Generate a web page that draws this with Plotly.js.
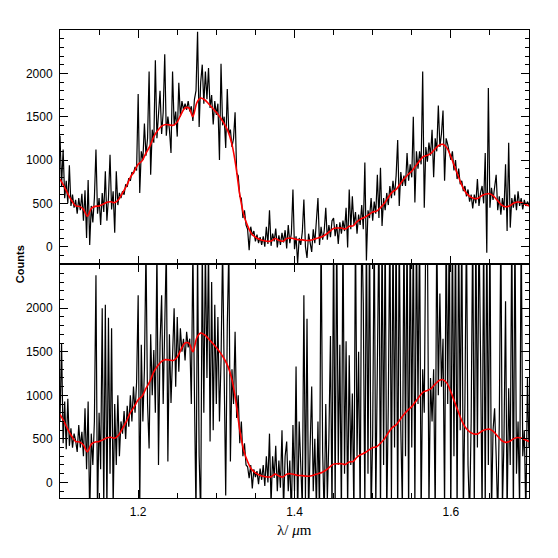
<!DOCTYPE html>
<html>
<head>
<meta charset="utf-8">
<script src="https://cdn.plot.ly/plotly-3.0.1.min.js"></script>
<style>html,body{margin:0;padding:0;background:#fff;}#chart{width:558px;height:558px;}</style>
</head>
<body>
<div id="chart"></div>
<script>
// wavelength grid of the spectra (start and step, microns)
const specStart = 1.1;
const specStep = 0.002;
const smoothStart = 1.1;
const smoothStep = 0.005;

// top panel: observed counts
const topCounts = [
1280,700,1120,560,760,500,940,470,600,450,
540,380,560,420,610,300,650,100,770,20,
470,280,560,1120,380,560,250,620,400,870,
300,560,1060,430,640,160,870,480,620,560,
640,600,720,690,790,760,860,840,920,880,
1760,620,1100,1000,1420,1050,1250,2020,830,1350,
1200,2150,1250,1500,1800,1300,1550,2220,1280,1500,
1350,1080,2020,1400,1560,1270,1890,1500,1680,1580,
1650,1580,1680,1560,1620,1450,1700,1800,2480,1380,
1900,2100,1650,2020,1700,2060,1600,1750,1410,1680,
1520,1650,1000,2110,1400,1500,1140,1820,1300,1350,
1150,1250,1550,850,820,580,560,330,420,250,
200,-40,230,130,180,60,140,40,110,20,
120,0,230,30,420,10,150,60,210,-10,
130,20,160,50,190,-20,250,40,150,660,
-30,120,-190,100,20,170,545,0,-130,150,
60,-60,200,40,300,560,20,230,80,180,
450,80,250,110,300,330,120,260,30,280,
150,300,180,450,-10,660,200,580,250,400,
150,370,250,480,200,970,-160,420,330,560,
300,520,380,830,330,910,240,560,420,620,
480,700,560,760,590,820,1230,470,860,700,
820,700,1080,760,950,800,1500,510,1100,900,
1100,950,2020,450,1150,980,1200,1050,1350,800,
1250,1100,1630,1150,1300,1570,760,1250,1180,1100,
1000,1100,880,1000,780,900,720,760,640,700,
580,660,520,600,440,600,500,780,470,620,
700,500,1080,-70,1830,450,680,540,720,830,
420,580,370,560,420,950,180,1200,220,560,
450,600,420,640,470,560,430,540,470,520,480
];

// bottom panel: noisier observed counts
const bottomCounts = [
700,1600,450,930,380,960,420,620,400,560,
480,350,660,400,580,300,850,150,930,-400,
560,200,700,2380,-400,800,150,2000,-300,2040,
-350,1890,100,1770,-300,900,200,1000,300,700,
560,820,500,880,640,1000,700,1100,800,1150,
2150,-300,1580,700,1300,2700,900,390,1700,1000,
1520,800,2700,200,1600,2150,900,1800,2700,240,
1700,912,1500,2000,1100,1900,1270,1770,1500,1650,
1400,1730,1550,1650,900,2700,1000,-400,2700,300,
-400,2700,800,2700,1200,2700,470,2300,600,2040,
900,1900,700,1400,2700,1100,-150,1800,2700,240,
1300,900,1730,740,1000,450,700,300,450,200,
180,50,200,-70,150,60,130,-20,160,30,
200,-40,300,0,560,-250,300,50,420,-100,
250,-60,600,-300,300,470,-100,250,-400,660,
-100,1330,-400,700,100,-300,2150,-200,1880,-400,
400,1100,-100,500,-300,700,-400,3000,350,-400,
900,-200,500,1680,-400,3000,-300,3000,200,1580,
-400,3000,100,1620,-300,1460,200,1020,-400,3000,
300,1500,-400,3000,2060,-300,3000,100,3000,-400,
540,3000,-300,1160,3000,-400,3000,200,3000,-400,
900,3000,-200,3000,400,3000,-400,3000,600,-300,
3000,300,3000,-400,3000,400,3000,-300,3000,900,
3000,-400,1300,800,3000,3000,-300,1200,700,1300,
-400,3000,1000,2170,1100,1650,-300,3000,900,3000,
-400,3000,300,3000,-400,3000,600,3000,-400,900,
3000,200,-400,700,3000,-300,3000,400,3000,1480,
-400,3000,-300,3000,200,3000,-400,600,850,300,
-400,700,3000,-300,500,2080,-400,1080,200,3000,
-400,3000,100,700,-300,3000,300,600,-400,1200,400
];

// smoothed spectrum (red), same in both panels
const smoothCounts = [
780,700,610,530,470,465,430,350,440,465,
470,490,512,518,508,545,620,700,800,870,
950,990,1080,1160,1270,1340,1390,1410,1405,1400,
1440,1530,1600,1600,1500,1660,1715,1695,1650,1600,
1550,1490,1420,1330,1180,930,600,370,240,150,
110,85,70,62,65,95,75,62,95,100,
90,80,78,72,73,85,100,115,140,175,
210,215,215,205,235,240,290,320,340,370,
400,410,450,500,570,630,660,720,780,830,
870,930,990,1040,1055,1080,1130,1170,1180,1140,
1040,920,800,690,615,575,555,560,590,608,
610,580,530,480,460,470,500,515,510,490,470
];

// axis ticks
const xTickVals = [1.2, 1.4, 1.6];
const xTickText = ['1.2', '1.4', '1.6'];
const yTickVals = [0, 500, 1000, 1500, 2000];
const yTickText = ['0', '500', '1000', '1500', '2000'];

const tickFont = {family: 'Liberation Sans, Arial, sans-serif', size: 12, color: '#000'};

const traces = [
  {x0: specStart, dx: specStep, y: topCounts, xaxis: 'x', yaxis: 'y', type: 'scatter', mode: 'lines',
   line: {color: '#000', width: 1.2}, hoverinfo: 'skip'},
  {x0: smoothStart, dx: smoothStep, y: smoothCounts, xaxis: 'x', yaxis: 'y', type: 'scatter', mode: 'lines',
   line: {color: '#ff0000', width: 1.6, shape: 'spline', smoothing: 0.8}, hoverinfo: 'skip'},
  {x0: specStart, dx: specStep, y: bottomCounts, xaxis: 'x2', yaxis: 'y2', type: 'scatter', mode: 'lines',
   line: {color: '#000', width: 1.2}, hoverinfo: 'skip'},
  {x0: smoothStart, dx: smoothStep, y: smoothCounts, xaxis: 'x2', yaxis: 'y2', type: 'scatter', mode: 'lines',
   line: {color: '#ff0000', width: 1.6, shape: 'spline', smoothing: 0.8}, hoverinfo: 'skip'}
];

function xAxis(anchor, labels) {
  return {
    anchor: anchor, domain: [0, 1], range: [1.1, 1.7], showgrid: false, zeroline: false,
    showline: true, linecolor: '#000', linewidth: 1, mirror: 'allticks',
    tickmode: 'array', tickvals: xTickVals, ticktext: xTickText,
    ticks: 'inside', ticklen: 8, tickwidth: 1, tickcolor: '#000',
    showticklabels: labels, tickfont: tickFont, ticklabelstandoff: 3,
    minor: {tickmode: 'linear', tick0: 1.1, dtick: 0.05, ticks: 'inside', ticklen: 5, tickwidth: 1, tickcolor: '#000', showgrid: false}
  };
}
function yAxis(anchor, domain, range) {
  return {
    anchor: anchor, domain: domain, range: range, showgrid: false, zeroline: false,
    showline: true, linecolor: '#000', linewidth: 1, mirror: 'allticks',
    tickmode: 'array', tickvals: yTickVals, ticktext: yTickText,
    ticks: 'inside', ticklen: 8, tickwidth: 1, tickcolor: '#000',
    tickfont: tickFont, ticklabelstandoff: 4,
    minor: {tickmode: 'linear', tick0: 0, dtick: 100, ticks: 'inside', ticklen: 4, tickwidth: 1, tickcolor: '#000', showgrid: false}
  };
}

const layout = {
  width: 558, height: 558,
  margin: {l: 60, r: 29, t: 30, b: 60},
  paper_bgcolor: '#fff', plot_bgcolor: '#fff',
  showlegend: false,
  xaxis: xAxis('y', false),
  yaxis: yAxis('x', [0.5, 1], [-200, 2500]),
  xaxis2: xAxis('y2', true),
  yaxis2: yAxis('x2', [0, 0.5], [-179, 2508]),
  annotations: [
    {text: '<b>Counts</b>', xref: 'paper', yref: 'paper', x: -0.085, y: 0.5, textangle: -90,
     showarrow: false, xanchor: 'center', yanchor: 'middle',
     font: {family: 'Liberation Sans, Arial, sans-serif', size: 11, color: '#000'}},
    {text: 'λ/ <i>μ</i>m', xref: 'paper', yref: 'paper', x: 0.5, y: -0.048, showarrow: false,
     xanchor: 'center', yanchor: 'top',
     font: {family: 'Liberation Serif, Times New Roman, serif', size: 15, color: '#000'}}
  ]
};

Plotly.newPlot('chart', traces, layout, {staticPlot: true, displayModeBar: false});
</script>
</body>
</html>
